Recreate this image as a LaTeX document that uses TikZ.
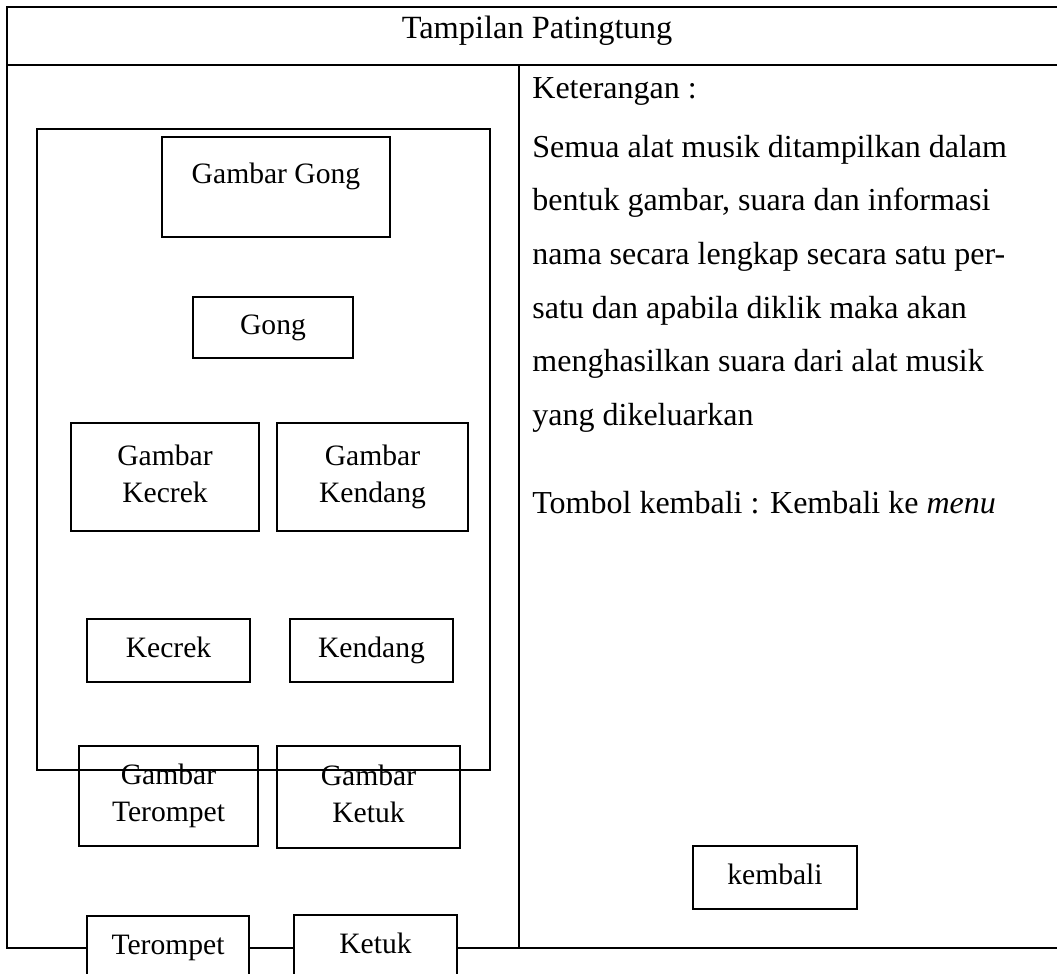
\documentclass[tikz,border=0pt]{standalone}
\usepackage{fontspec}
\setmainfont{Liberation Serif}

\begin{document}
\begin{tikzpicture}[x=0.5pt, y=-0.5pt,
    font=\fontsize{14.8}{18.5}\selectfont,
    tableline/.style={line width=1.3pt},
    boxnode/.style={draw, line width=1.3pt, inner sep=0pt, align=center, text depth=3.7pt},
    onebox/.style={boxnode, text height=10.4pt},
    maskbox/.style={onebox, fill=white}]
    \useasboundingbox (0,0) rectangle (1057,974);
    \clip (0,0) rectangle (1057,974); % the bottom buttons run off the page

    \coordinate (TableNW)  at (7,7);
    \coordinate (TableNE)  at (1070,7);
    \coordinate (TableSW)  at (7,948);
    \coordinate (TableSE)  at (1070,948);
    \coordinate (RowW)     at (7,65);
    \coordinate (RowE)     at (1070,65);
    \coordinate (SplitTop) at (519,65);
    \coordinate (SplitBot) at (519,948);
    \draw [tableline] (TableNE) -- (TableNW) -- (TableSW) -- (TableSE);% Outer border
    \draw [tableline] (RowW) -- (RowE);% Line under the title
    \draw [tableline] (SplitTop) -- (SplitBot);% Column split

    \node (Title) [font=\fontsize{16.2}{20}\selectfont] at (537,31) {Tampilan Patingtung};

    % The phone screen
    \coordinate (ScreenNW) at (37,129);
    \coordinate (ScreenSE) at (490,770);
    \draw [line width=1.2pt] (ScreenNW) rectangle (ScreenSE);

    \node (GbGong) [onebox, minimum width=114pt, minimum height=50pt, text depth=14pt]
        at (276,187) {Gambar Gong};
    \node (Gong) [onebox, minimum width=80pt, minimum height=30.5pt]
        at (273,327.5) {Gong};
    \node (GbKecrek) [boxnode, minimum width=94pt, minimum height=54pt]
        at (165,477) {Gambar\\Kecrek};
    \node (GbKendang) [boxnode, minimum width=95.5pt, minimum height=54pt]
        at (372.5,477) {Gambar\\Kendang};
    \node (Kecrek) [onebox, minimum width=81.5pt, minimum height=31.5pt]
        at (168.5,650.5) {Kecrek};
    \node (Kendang) [onebox, minimum width=81.5pt, minimum height=31.5pt]
        at (371.5,650.5) {Kendang};
    \node (GbTerompet) [boxnode, minimum width=89.5pt, minimum height=50pt]
        at (168.5,796) {Gambar\\Terompet};
    \node (GbKetuk) [boxnode, minimum width=91.5pt, minimum height=51pt]
        at (368.5,797) {Gambar\\Ketuk};
    \node (Terompet) [maskbox, minimum width=81pt, minimum height=31.5pt]
        at (168,947.5) {Terompet};
    \node (Ketuk) [maskbox, minimum width=81.5pt, minimum height=31.5pt]
        at (375.5,946.5) {Ketuk};

    % Right column
    \node (Info) [anchor=north west, inner sep=0pt, align=left,
        font=\fontsize{16}{26.8}\selectfont] at (532,77)
        {Keterangan :\\[2.7pt]
         Semua alat musik ditampilkan dalam\\
         bentuk gambar, suara dan informasi\\
         nama secara lengkap secara satu per-\\
         satu dan apabila diklik maka akan\\
         menghasilkan suara dari alat musik\\
         yang dikeluarkan\\[17.2pt]
         Tombol kembali : Kembali ke \textit{menu}};
    \node (Kembali) [onebox, minimum width=82pt, minimum height=31.5pt]
        at (775,877.5) {kembali};
\end{tikzpicture}
\end{document}
